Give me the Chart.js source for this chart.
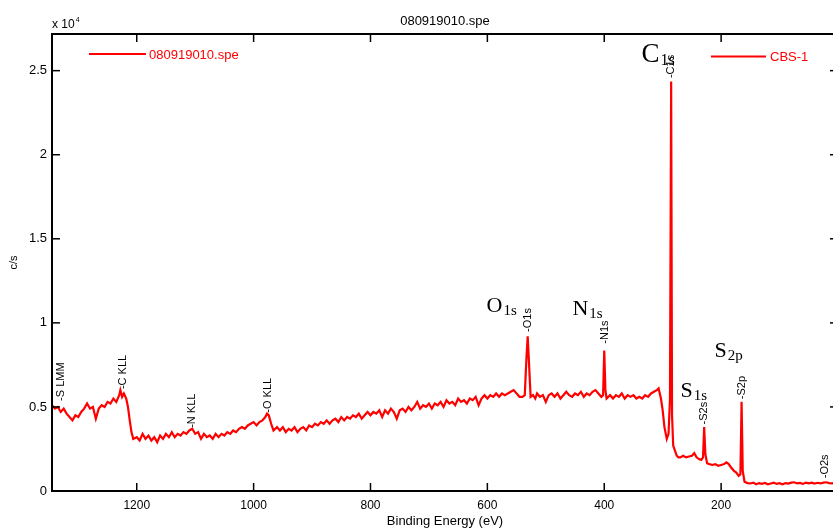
<!DOCTYPE html>
<html>
<head>
<meta charset="utf-8">
<title>080919010.spe</title>
<script src="https://cdn.jsdelivr.net/npm/chart.js@4/dist/chart.umd.min.js"></script>
<style>
  html, body { margin: 0; padding: 0; background: #fff; overflow: hidden; }
  #wrap { width: 845px; height: 530px; }
</style>
</head>
<body>
<div id="wrap"><canvas id="spectrum"></canvas></div>
<script>
// survey spectrum, binding energy (eV) and c/s in units of 10^4
const energy = [
  1345, 1340, 1335, 1330, 1325, 1320, 1315, 1310, 1305, 1300,
  1295, 1290, 1285, 1280, 1275, 1270, 1265, 1260, 1255, 1250,
  1245, 1240, 1235, 1230, 1228, 1225, 1222, 1218, 1215, 1212,
  1209, 1206, 1200, 1195, 1190, 1185, 1180, 1175, 1170, 1165,
  1160, 1155, 1150, 1145, 1140, 1135, 1130, 1125, 1120, 1115,
  1110, 1105, 1100, 1095, 1090, 1085, 1080, 1075, 1070, 1065,
  1060, 1055, 1050, 1045, 1040, 1035, 1030, 1025, 1020, 1015,
  1010, 1005, 1000, 995, 990, 985, 980, 977, 974, 970,
  966, 960, 955, 950, 945, 940, 935, 930, 925, 920,
  915, 910, 905, 900, 895, 890, 885, 880, 875, 870,
  865, 860, 855, 850, 845, 840, 835, 830, 825, 820,
  815, 810, 805, 800, 795, 790, 785, 780, 775, 770,
  765, 760, 755, 750, 745, 740, 735, 730, 725, 720,
  715, 710, 705, 700, 695, 690, 685, 680, 675, 670,
  665, 660, 655, 650, 645, 640, 635, 630, 625, 620,
  615, 610, 605, 600, 595, 590, 585, 580, 575, 570,
  565, 560, 555, 550, 545, 540, 536, 533, 531, 529,
  526, 522, 518, 515, 510, 505, 500, 495, 490, 485,
  480, 475, 470, 465, 460, 455, 450, 445, 440, 435,
  430, 425, 420, 415, 410, 405, 402, 400, 398, 396,
  390, 385, 380, 375, 370, 365, 360, 355, 350, 345,
  340, 335, 330, 325, 320, 315, 310, 307, 303, 300,
  297, 293, 290, 287.5, 285.5, 284, 282, 279, 276, 273,
  270, 265, 260, 255, 250, 246, 242, 238, 234, 231,
  229, 227, 224, 220, 215, 210, 205, 200, 195, 191,
  187, 183, 178, 174, 170, 167, 165, 163, 160, 155,
  150, 145, 140, 135, 130, 125, 120, 115, 110, 105,
  100, 95, 90, 85, 80, 75, 70, 65, 60, 55,
  50, 45, 40, 35, 30, 25, 20, 15, 10, 5,
  0
];
const counts = [
  0.51, 0.49, 0.50, 0.47, 0.49, 0.46, 0.44, 0.42, 0.45, 0.44,
  0.47, 0.49, 0.52, 0.49, 0.50, 0.43, 0.49, 0.51, 0.50, 0.53,
  0.52, 0.55, 0.53, 0.57, 0.60, 0.56, 0.58, 0.55, 0.50, 0.42,
  0.35, 0.31, 0.32, 0.30, 0.34, 0.31, 0.33, 0.30, 0.32, 0.29,
  0.33, 0.31, 0.34, 0.32, 0.35, 0.32, 0.34, 0.33, 0.35, 0.34,
  0.36, 0.37, 0.34, 0.35, 0.31, 0.34, 0.32, 0.33, 0.31, 0.34,
  0.32, 0.34, 0.33, 0.35, 0.34, 0.36, 0.35, 0.37, 0.38, 0.37,
  0.39, 0.40, 0.41, 0.39, 0.41, 0.42, 0.44, 0.46, 0.45, 0.40,
  0.36, 0.38, 0.36, 0.38, 0.35, 0.37, 0.36, 0.38, 0.35, 0.37,
  0.38, 0.36, 0.39, 0.38, 0.40, 0.39, 0.41, 0.40, 0.42, 0.40,
  0.42, 0.43, 0.41, 0.44, 0.42, 0.44, 0.43, 0.45, 0.44, 0.46,
  0.43, 0.45, 0.47, 0.45, 0.47, 0.46, 0.48, 0.44, 0.48, 0.46,
  0.49, 0.47, 0.43, 0.48, 0.49, 0.47, 0.50, 0.48, 0.50, 0.53,
  0.49, 0.51, 0.50, 0.52, 0.49, 0.52, 0.51, 0.53, 0.50, 0.54,
  0.52, 0.53, 0.51, 0.55, 0.53, 0.54, 0.52, 0.55, 0.54, 0.56,
  0.51, 0.55, 0.57, 0.55, 0.57, 0.56, 0.58, 0.56, 0.58, 0.57,
  0.58, 0.59, 0.60, 0.58, 0.56, 0.56, 0.57, 0.80, 0.92, 0.78,
  0.56, 0.57, 0.55, 0.58, 0.56, 0.57, 0.53, 0.57, 0.58, 0.56,
  0.58, 0.55, 0.57, 0.59, 0.57, 0.56, 0.58, 0.57, 0.59, 0.56,
  0.58, 0.57, 0.59, 0.60, 0.58, 0.56, 0.57, 0.835, 0.60, 0.55,
  0.57, 0.55, 0.57, 0.56, 0.58, 0.55, 0.57, 0.56, 0.57, 0.55,
  0.56, 0.55, 0.57, 0.56, 0.58, 0.59, 0.60, 0.61, 0.55, 0.48,
  0.38, 0.31, 0.34, 0.55, 2.435, 0.45, 0.27, 0.24, 0.21, 0.20,
  0.20, 0.21, 0.20, 0.205, 0.21, 0.225, 0.20, 0.19, 0.185, 0.20,
  0.38, 0.22, 0.165, 0.16, 0.155, 0.16, 0.15, 0.155, 0.16, 0.17,
  0.16, 0.14, 0.12, 0.11, 0.09, 0.10, 0.53, 0.12, 0.055, 0.047,
  0.045, 0.05, 0.04, 0.047, 0.043, 0.048, 0.04, 0.045, 0.05, 0.042,
  0.046, 0.04, 0.047, 0.044, 0.05, 0.052, 0.045, 0.048, 0.042, 0.05,
  0.046, 0.05, 0.044, 0.049, 0.045, 0.05, 0.052, 0.047, 0.045, 0.048,
  0.046
];

// small vertical peak tags: text, energy, height they start from
const tagText   = ['-S LMM', '-C KLL', '-N KLL', '-O KLL', '-O1s', '-N1s', '-C1s', '-S2s', '-S2p', '-O2s'];
const tagEnergy = [1330, 1223, 1106, 975, 531, 399, 285.5, 228.6, 164.5, 23];
const tagLevel  = [0.53, 0.60, 0.37, 0.46, 0.94, 0.87, 2.45, 0.39, 0.54, 0.07];

// large element names with subscripts
const nameMain   = ['C', 'O', 'N', 'S', 'S'];
const nameSub    = ['1s', '1s', '1s', '2p', '1s'];
const nameEnergy = [336.4, 601.5, 454.4, 211.5, 269.6];
const nameLevel  = [2.554, 1.065, 1.048, 0.798, 0.56];

const legendNames = ['080919010.spe', 'CBS-1'];
const fileTitle = '080919010.spe';

const RED = '#ff0000';
const SANS = '"Liberation Sans", Arial, sans-serif';
const SERIF = '"Liberation Serif", "Times New Roman", serif';

const points = energy.map((e, i) => ({ x: e, y: counts[i] }));

function line(ctx, x1, y1, x2, y2) {
  ctx.beginPath();
  ctx.moveTo(x1, y1);
  ctx.lineTo(x2, y2);
  ctx.stroke();
}

// frame, inward ticks on all four sides and all the text around the plot
const decorations = {
  id: 'decorations',
  afterDraw(chart) {
    const { ctx, chartArea: a, scales: { x, y } } = chart;
    ctx.save();

    ctx.strokeStyle = '#000';
    ctx.lineWidth = 2;
    ctx.strokeRect(a.left, a.top, a.right - a.left, a.bottom - a.top);
    ctx.lineWidth = 1.5;
    x.ticks.forEach(t => {
      const px = x.getPixelForValue(t.value);
      line(ctx, px, a.bottom, px, a.bottom - 8);
      line(ctx, px, a.top, px, a.top + 8);
    });
    y.ticks.forEach(t => {
      const py = y.getPixelForValue(t.value);
      line(ctx, a.left, py, a.left + 8, py);
      line(ctx, a.right, py, a.right - 8, py);
    });

    ctx.fillStyle = '#000';
    ctx.textBaseline = 'alphabetic';
    ctx.textAlign = 'center';
    ctx.font = '13px ' + SANS;
    ctx.fillText(fileTitle, (a.left + a.right) / 2, 25);
    ctx.fillText('Binding Energy (eV)', (a.left + a.right) / 2, 525);

    ctx.textAlign = 'left';
    ctx.font = '12px ' + SANS;
    ctx.fillText('x 10', a.left, 28);
    const w = ctx.measureText('x 10').width;
    ctx.font = '7px ' + SANS;
    ctx.fillText('4', a.left + w + 1, 22);

    ctx.save();
    ctx.translate(17, (a.top + a.bottom) / 2);
    ctx.rotate(-Math.PI / 2);
    ctx.textAlign = 'center';
    ctx.font = '11px ' + SANS;
    ctx.fillText('c/s', 0, 0);
    ctx.restore();

    // legend entries
    ctx.strokeStyle = RED;
    ctx.fillStyle = RED;
    ctx.lineWidth = 2;
    ctx.font = '13px ' + SANS;
    ctx.textBaseline = 'middle';
    line(ctx, 89, 54, 146, 54);
    ctx.fillText(legendNames[0], 149, 55);
    line(ctx, 711, 56.5, 766, 56.5);
    ctx.fillText(legendNames[1], 770, 57);

    // vertical peak tags
    ctx.fillStyle = '#000';
    ctx.font = '11px ' + SANS;
    ctx.textAlign = 'left';
    ctx.textBaseline = 'middle';
    tagText.forEach((txt, i) => {
      ctx.save();
      ctx.translate(x.getPixelForValue(tagEnergy[i]), y.getPixelForValue(tagLevel[i]) - 1);
      ctx.rotate(-Math.PI / 2);
      ctx.fillText(txt, 0, 0);
      ctx.restore();
    });

    // element names
    ctx.textBaseline = 'alphabetic';
    nameMain.forEach((m, i) => {
      const big = i === 0 ? 27 : 22;
      const small = i === 0 ? 16 : 15;
      const px = x.getPixelForValue(nameEnergy[i]);
      const py = y.getPixelForValue(nameLevel[i]);
      ctx.font = big + 'px ' + SERIF;
      ctx.fillText(m, px, py);
      const mw = ctx.measureText(m).width;
      ctx.font = small + 'px ' + SERIF;
      ctx.fillText(nameSub[i], px + mw + 1, py + 3);
    });

    ctx.restore();
  }
};

new Chart(document.getElementById('spectrum'), {
  type: 'line',
  data: {
    datasets: [{
      label: legendNames[0],
      data: points,
      borderColor: RED,
      borderWidth: 2.2,
      pointRadius: 0,
      tension: 0,
      fill: false
    }]
  },
  options: {
    responsive: true,
    maintainAspectRatio: false,
    animation: false,
    layout: { padding: { top: 34, right: 6.4, left: 0, bottom: 0 } },
    plugins: {
      legend: { display: false },
      title: { display: false },
      tooltip: { enabled: false }
    },
    scales: {
      x: {
        type: 'linear',
        reverse: true,
        min: 0,
        max: 1345,
        grid: { display: false, drawTicks: false },
        border: { display: false },
        ticks: {
          stepSize: 200,
          includeBounds: false,
          padding: 7,
          maxRotation: 0,
          color: '#000',
          font: { family: SANS, size: 12 },
          callback: v => (v === 0 ? '' : String(v))
        },
        afterFit: s => { s.height = 39; }
      },
      y: {
        min: 0,
        max: 2.718,
        grid: { display: false, drawTicks: false },
        border: { display: false },
        ticks: {
          stepSize: 0.5,
          includeBounds: false,
          padding: 5,
          color: '#000',
          font: { family: SANS, size: 13 },
          callback: v => String(Math.round(v * 10) / 10)
        },
        afterFit: s => { s.width = 52; }
      }
    }
  },
  plugins: [decorations]
});
</script>
</body>
</html>
